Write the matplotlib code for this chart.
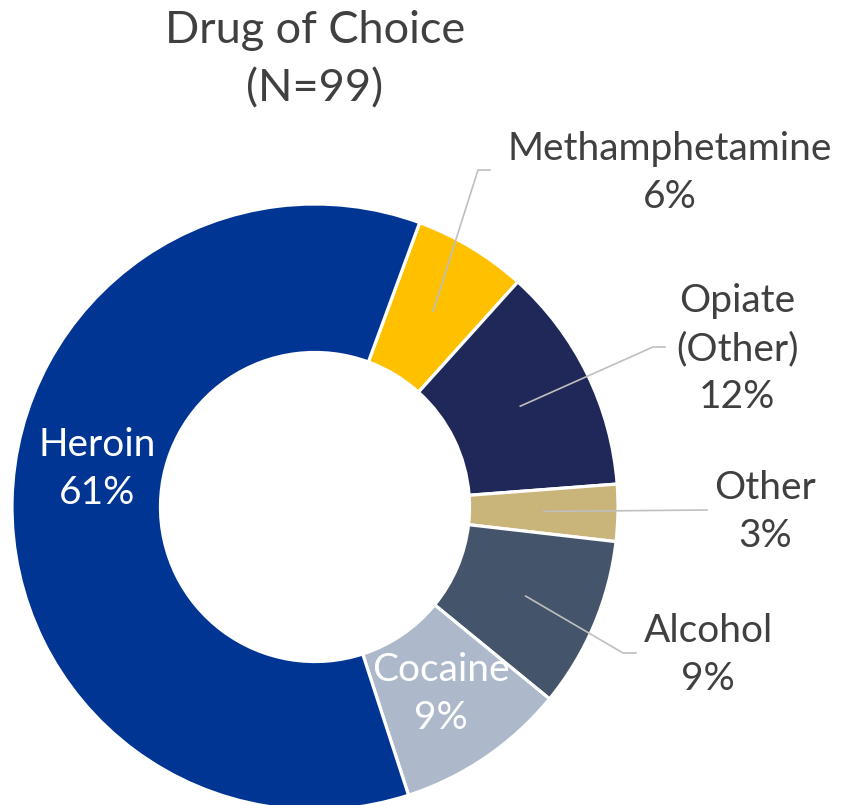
import numpy as np
import matplotlib.pyplot as plt

# data, clockwise from the top right
drugs = ['Methamphetamine', 'Opiate\n(Other)', 'Other', 'Alcohol', 'Cocaine', 'Heroin']
counts = [6, 12, 3, 9, 9, 60]
colors = ['#FFC000', '#1F2859', '#C9B47A', '#44546A', '#ADB9CA', '#003594']

total = sum(counts)
pcts = [round(100 * c / total) for c in counts]

plt.rcParams['font.family'] = ['Lato', 'DejaVu Sans']
txt = '#404040'

W, H = 844, 805
cx, cy, R = 315, 507, 303   # donut centre / radius in pixels

fig = plt.figure(figsize=(W / 100, H / 100), dpi=100)
ax = fig.add_axes([0, 0, 1, 1])

wedges, _ = ax.pie(counts, colors=colors, startangle=69.8, counterclock=False,
                   radius=1.0, wedgeprops=dict(width=0.49, edgecolor='white', linewidth=2.3))

# pie() resets the limits, so set them afterwards
ax.set_xlim(-cx / R, (W - cx) / R)
ax.set_ylim(-(H - cy) / R, cy / R)
ax.set_aspect('equal')
ax.axis('off')


def px(x, y):
    return (x - cx) / R, (cy - y) / R


# title
ax.text(*px(315, 60), 'Drug of Choice\n(N=99)', ha='center', va='center',
        fontsize=32.5, color=txt, linespacing=1.53)

# label positions (pixel), leader elbow / end (pixel) or None
label_xy = [(670, 173), (737, 349), (765, 512), (708, 655), (441, 694), (97, 469)]
leader = [[(478, 170), (490, 170)],
          [(653, 347), (665, 347)],
          [(707, 510)],
          [(623, 653), (636, 653)],
          None, None]
inside = [False, False, False, False, True, True]

for i, w in enumerate(wedges):
    lab = drugs[i] + '\n' + f'{pcts[i]}%'
    col = 'white' if inside[i] else txt
    ax.text(*px(*label_xy[i]), lab, ha='center', va='center', fontsize=28,
            color=col, linespacing=1.42)
    if leader[i] is not None:
        ang = np.deg2rad((w.theta1 + w.theta2) / 2)
        r0 = 1 - 0.49 / 2
        pts = [(r0 * np.cos(ang), r0 * np.sin(ang))] + [px(*p) for p in leader[i]]
        xs, ys = zip(*pts)
        ax.plot(xs, ys, color='#BFBFBF', lw=1.2, zorder=3)

fig.savefig('out.png', dpi=100, facecolor='white')
